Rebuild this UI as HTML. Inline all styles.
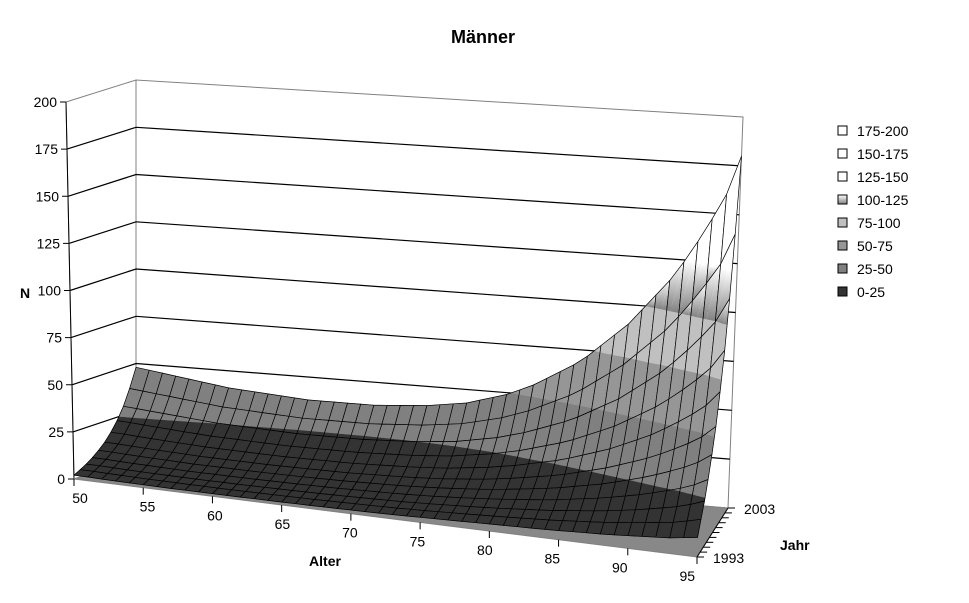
<!DOCTYPE html>
<html><head><meta charset="utf-8">
<style>
html,body{margin:0;padding:0;background:#fff;}
svg{display:block;font-family:"Liberation Sans",Arial,sans-serif;}
</style></head>
<body>
<svg id="chart" width="969" height="603" viewBox="0 0 969 603" xmlns="http://www.w3.org/2000/svg">
<rect width="969" height="603" fill="#fff"/>
<text x="483" y="43" text-anchor="middle" font-size="18" font-weight="bold">Männer</text>
<text x="20" y="298" font-size="14" font-weight="bold">N</text>
<text x="325" y="566" text-anchor="middle" font-size="14" font-weight="bold">Alter</text>
<text x="780" y="550" font-size="14" font-weight="bold">Jahr</text>
<g id="plot"></g>
<g id="legend"></g>
</svg>
<script>
// ---- data ----
const ages = [];
for (let a = 50; a <= 95; a++) ages.push(a);
const years = [1993,1994,1995,1996,1997,1998,1999,2000,2001,2002,2003];
// value in newest year (back row), per age 50..95
const backRow = [48,47,46,45,44,43,42,41,40.5,40,39.5,39,38.5,38,38,38,38,38,38,38.5,39,39.5,40,41,42,43,45,47,49,52,55,59,63,67,72,78,84,90,98,106,114,124,135,147,160,180];
// value in oldest year (front row), per age 50..95
const frontRow = [2,2,1.8,1.7,1.6,1.5,1.5,1.4,1.4,1.4,1.4,1.4,1.4,1.5,1.5,1.5,1.6,1.6,1.7,1.8,1.9,2,2.1,2.2,2.4,2.6,2.8,3,3.2,3.4,3.6,3.8,4,4.2,4.4,4.7,5,5.3,5.6,6,6.5,7,7.5,8,9,10];
// year weighting between front and back rows
const yearShape = [0,0.04,0.08,0.13,0.19,0.26,0.35,0.46,0.6,0.78,1];
const yTicks = [0,25,50,75,100,125,150,175,200];
const legendLabels = ["175-200","150-175","125-150","100-125","75-100","50-75","25-50","0-25"];
const legendFills = ["#fff","#fff","#fff","url(#g100)","#c0c0c0","#969696","#808080","#333"];

// ---- projection ----
const FL={x:74,y:479,h:377,l:-8}, BL={x:136,y:458,h:378,l:0}, BR={x:728,y:508,h:391,l:15}, FR={x:697,y:557,h:391,l:10};
function lerp(a,b,t){return a+(b-a)*t;}
function P(u,v,z){
  const k=['x','y','h','l'], r={};
  k.forEach(n=>{r[n]=lerp(lerp(FL[n],FR[n],u),lerp(BL[n],BR[n],u),v);});
  return [r.x + r.l*z/200, r.y - r.h*z/200];
}
const xScale = a => (a-50)/45;
const vScale = y => (y-1993)/10;
const NS="http://www.w3.org/2000/svg";
const plot=document.getElementById('plot');
function mk(tag,attrs,parent){const e=document.createElementNS(NS,tag);for(const k in attrs)e.setAttribute(k,attrs[k]);(parent||plot).appendChild(e);return e;}
function pts(arr){return arr.map(p=>p[0].toFixed(1)+','+p[1].toFixed(1)).join(' ');}

const defs=mk('defs',{},document.getElementById('chart'));
const g=mk('linearGradient',{id:'g100',x1:0,y1:0,x2:0,y2:1},defs);
mk('stop',{offset:'0','stop-color':'#fff'},g);mk('stop',{offset:'1','stop-color':'#808080'},g);

// walls
let w=mk('polygon',{points:pts([P(0,0,0),P(0,1,0),P(0,1,200),P(0,0,200)]),fill:'#fff',stroke:'#808080','stroke-width':1});

w=mk('polygon',{points:pts([P(0,1,0),P(1,1,0),P(1,1,200),P(0,1,200)]),fill:'#fff',stroke:'#808080','stroke-width':1});

yTicks.forEach(t=>{
  if(t>0&&t<200){
    const gl=mk('polyline',{points:pts([P(0,0,t),P(0,1,t),P(1,1,t)]),fill:'none',stroke:'#000','stroke-width':1.2});
    
  }
  const p=P(0,0,t);
  const tk=mk('line',{x1:p[0]-6,y1:p[1],x2:p[0],y2:p[1],stroke:'#000'});
  
  const tx=mk('text',{x:p[0]-9,y:p[1]+5,'text-anchor':'end','font-size':14});
  tx.textContent=t;
  
});
w=mk('line',{x1:P(0,0,0)[0],y1:P(0,0,0)[1],x2:P(0,0,200)[0],y2:P(0,0,200)[1],stroke:'#000'});

w=mk('polygon',{points:pts([P(0,0,0),P(1,0,0),P(1,1,0),P(0,1,0)]),fill:'#888',stroke:'#808080'});


// surface
function val(ai,yi){return frontRow[ai]+(backRow[ai]-frontRow[ai])*yearShape[yi];}
const bands=[[0,25,'#333'],[25,50,'#808080'],[50,75,'#969696'],[75,100,'#c0c0c0'],[100,125,'url(#g100)'],[125,1000,'#fff']];
function clip(poly,lim,keepAbove){
  const out=[];
  for(let i=0;i<poly.length;i++){
    const a=poly[i],b=poly[(i+1)%poly.length];
    const ina=keepAbove?a[2]>=lim:a[2]<=lim, inb=keepAbove?b[2]>=lim:b[2]<=lim;
    if(ina)out.push(a);
    if(ina!==inb){const t=(lim-a[2])/(b[2]-a[2]);out.push([lerp(a[0],b[0],t),lerp(a[1],b[1],t),lim]);}
  }
  return out;
}
for(let yi=years.length-2;yi>=0;yi--){
  for(let ai=0;ai<ages.length-1;ai++){
    const c=[[ai,yi],[ai+1,yi],[ai+1,yi+1],[ai,yi+1]];
    const q3=c.map(q=>[xScale(ages[q[0]]),vScale(years[q[1]]),val(q[0],q[1])]);
    const cell=mk('g',{});
    
    
    const tris=[[q3[0],q3[1],q3[2]],[q3[0],q3[2],q3[3]]];
    bands.forEach(b=>{
      tris.forEach(tr=>{
        let p=clip(tr,b[0],true);
        if(p.length>=3)p=clip(p,b[1],false);
        if(p.length>=3)mk('polygon',{points:pts(p.map(r=>P(r[0],r[1],r[2]))),fill:b[2],stroke:b[2]==='url(#g100)'?'none':b[2],'stroke-width':0.4},cell);
      });
    });
    mk('polygon',{points:pts(q3.map(r=>P(r[0],r[1],r[2]))),fill:'none',stroke:'#000','stroke-width':0.7,'stroke-linejoin':'round'},cell);
  }
}

// age axis
ages.forEach(a=>{
  if(a%5)return;
  const p=P(xScale(a),0,0);
  const tk=mk('line',{x1:p[0],y1:p[1],x2:p[0],y2:p[1]+7,stroke:'#000'});
  
  const tx=mk('text',{x:p[0]+6-(a-50)*0.35,y:p[1]+24,'text-anchor':'middle','font-size':14});
  tx.textContent=a;
  
});
// year axis
years.forEach(y=>{
  const p=P(1,vScale(y),0);
  const tk=mk('line',{x1:p[0],y1:p[1],x2:p[0]+7,y2:p[1],stroke:'#000'});
  
  if(y===1993||y===2003){
    const tx=mk('text',{x:p[0]+16,y:p[1]+6,'font-size':14});
    tx.textContent=y;
    
  }
});
w=mk('line',{x1:P(1,0,0)[0],y1:P(1,0,0)[1],x2:P(1,1,0)[0],y2:P(1,1,0)[1],stroke:'#000'});


// legend
const leg=document.getElementById('legend');
legendLabels.forEach((l,i)=>{
  const y=131+i*23;
  const r=mk('rect',{x:838,y:y-5,width:9,height:9,fill:legendFills[i],stroke:'#000','stroke-width':1},leg);
  
  const t=mk('text',{x:857,y:y+5,'font-size':14},leg);
  t.textContent=l;
  
});
</script>
</body></html>
